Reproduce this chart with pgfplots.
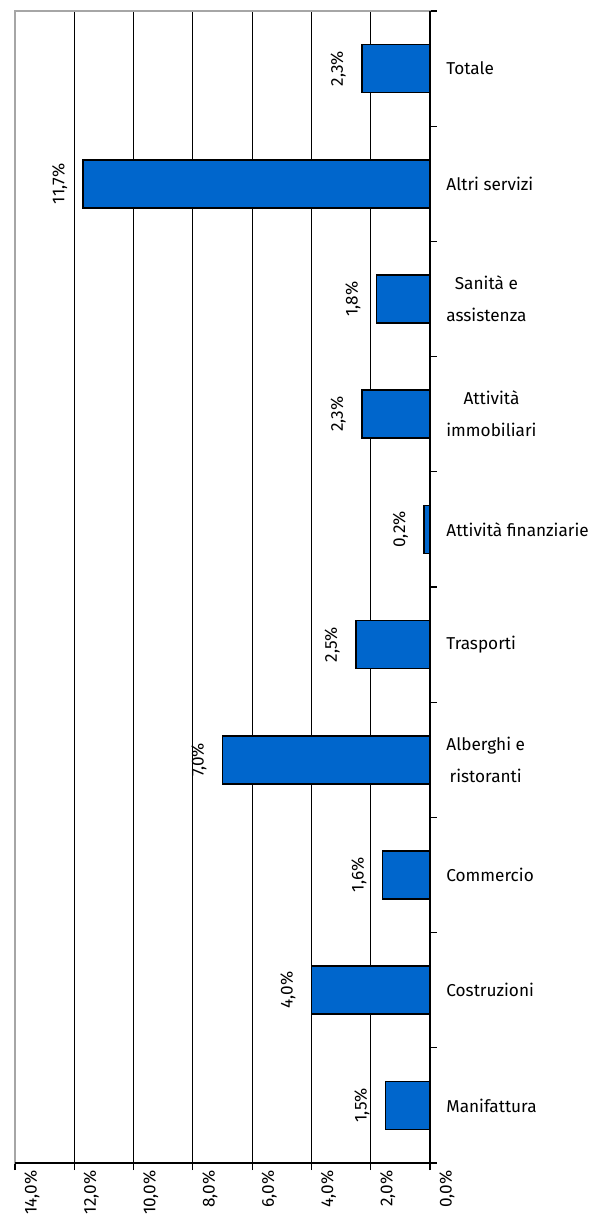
\documentclass[border=0pt]{standalone}
\usepackage{pgfplots}
\pgfplotsset{compat=1.18}
\usepackage{fontspec}
\setmainfont{Fira Sans}
\definecolor{barblue}{HTML}{0066CC}
\newcommand{\lbl}{\fontsize{8.6}{16}\selectfont}
\begin{document}
\begin{tikzpicture}
\begin{axis}[
  name=ax,
  scale only axis,
  width=207.5pt, height=576pt,
  xbar, bar width=24pt,
  x dir=reverse,
  xmin=0, xmax=14,
  ymin=-0.5, ymax=9.5,
  axis line style={draw=gray!70, line width=0.8pt},
  xtick={0,2,...,14},
  xtick pos=bottom,
  tick align=outside,
  major tick length=3.5pt,
  minor tick length=3.5pt,
  tick style={black, line width=0.6pt},
  xmajorgrids,
  major x grid style={black, line width=0.5pt},
  /pgf/number format/assume math mode=true,
  xticklabel={\pgfmathprintnumber[fixed,fixed zerofill,precision=1,use comma]{\tick}\%},
  xticklabel style={font=\lbl, rotate=90, anchor=east, inner sep=0pt, yshift=-8.5pt},
  ytick={0,...,9},
  yticklabels={Manifattura, Costruzioni, Commercio, {Alberghi e\\ristoranti}, Trasporti,
    Attività finanziarie, {Attività\\immobiliari}, {Sanità e\\assistenza}, Altri servizi, Totale},
  ytick pos=right,
  yticklabel pos=right,
  every major y tick/.style={draw=none},
  minor ytick={-0.5,0.5,...,9.5},
  yticklabel style={font=\lbl, align=center, anchor=west, inner sep=0pt, xshift=4.5pt},
  point meta=x,
  nodes near coords={\pgfmathprintnumber[fixed,fixed zerofill,precision=1,use comma]{\pgfplotspointmeta}\%},
  every node near coord/.append style={font=\lbl, xshift=-11.8pt, rotate=90, anchor=center, inner sep=0pt, black},
  clip=false,
]
% share of each sector, bottom to top
\addplot[fill=barblue, draw=black, line width=0.8pt] coordinates {
  (1.5,0) (4.0,1) (1.6,2) (7.0,3) (2.5,4)
  (0.2,5) (2.3,6) (1.8,7) (11.7,8) (2.3,9)
};
% zero axis and base line
\draw[black, line width=0.8pt] (axis cs:0,9.5) -- (axis cs:0,-0.5) -- (axis cs:14,-0.5);
\end{axis}
\pgfresetboundingbox
\path ([shift={(-7.5pt,-34pt)}]ax.south west) rectangle ([shift={(80.5pt,5.5pt)}]ax.north east);
\end{tikzpicture}
\end{document}
